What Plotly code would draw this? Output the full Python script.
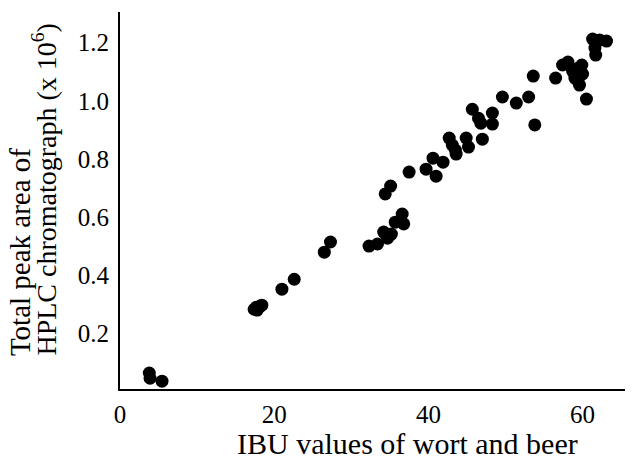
import plotly.graph_objects as go

ibu = [3.8, 3.9, 5.45,
       17.4, 17.8, 18.2, 18.4, 17.7,
       21.0, 22.6, 26.5, 27.3,
       32.3, 33.4, 34.2, 34.7, 35.2, 35.7, 36.6, 36.8, 34.4, 35.1,
       37.5, 39.7, 40.6, 41.0, 41.9, 42.7, 43.1, 43.5, 43.6, 44.9, 45.2, 47.0,
       45.7, 46.5, 46.8, 48.3, 48.3, 49.6, 51.4, 53.0, 53.6, 53.8,
       56.5, 57.4, 58.1, 58.7, 59.4, 59.9, 60.0, 59.4, 59.6, 59.0, 60.5,
       61.3, 62.2, 63.1, 61.6, 61.7]
peak_area = [0.065, 0.047, 0.037,
             0.284, 0.281, 0.295, 0.298, 0.291,
             0.353, 0.387, 0.480, 0.515,
             0.501, 0.508, 0.549, 0.528, 0.542, 0.583, 0.611, 0.577, 0.680, 0.707,
             0.755, 0.765, 0.803, 0.741, 0.789, 0.872, 0.848, 0.831, 0.817, 0.872, 0.841, 0.868,
             0.971, 0.940, 0.923, 0.958, 0.920, 1.013, 0.992, 1.013, 1.085, 0.917,
             1.078, 1.123, 1.133, 1.102, 1.112, 1.123, 1.092, 1.068, 1.054, 1.078, 1.006,
             1.212, 1.209, 1.205, 1.181, 1.157]

x_ticks = [0, 20, 40, 60]
y_ticks = [0.2, 0.4, 0.6, 0.8, 1.0, 1.2]

FONT = "Liberation Serif"

fig = go.Figure(go.Scatter(
    x=ibu, y=peak_area, mode="markers",
    marker=dict(color="black", size=13, line=dict(width=0)),
    showlegend=False,
))

fig.update_layout(
    width=633, height=462,
    margin=dict(l=120, r=8, t=12, b=73),
    paper_bgcolor="white", plot_bgcolor="white",
    font=dict(family=FONT, color="black", size=25),
    xaxis=dict(range=[0, 65.5], tickvals=x_ticks, showgrid=False, zeroline=False,
               showline=True, linecolor="black", linewidth=2, ticks="",
               ticklabelstandoff=2, tickfont=dict(size=25)),
    yaxis=dict(range=[0.01, 1.305], tickvals=y_ticks, tickformat=".1f", showgrid=False,
               zeroline=False, showline=True, linecolor="black", linewidth=2, ticks="",
               ticklabelstandoff=4, tickfont=dict(size=25)),
    annotations=[
        dict(text="IBU values of wort and beer", xref="paper", yref="paper",
             x=0.57, y=-0.191, xanchor="center", yanchor="bottom", showarrow=False,
             font=dict(size=30), borderpad=0),
        dict(text="Total peak area of", textangle=-90, xref="paper", yref="paper",
             x=-0.198, y=0.082, xanchor="center", yanchor="bottom", showarrow=False,
             font=dict(size=29)),
        dict(text="HPLC chromatograph (x 10<sup>6</sup>)", textangle=-90, xref="paper", yref="paper",
             x=-0.1485, y=0.082, xanchor="center", yanchor="bottom", showarrow=False,
             font=dict(size=28)),
    ],
)

fig.write_html("out.html")
